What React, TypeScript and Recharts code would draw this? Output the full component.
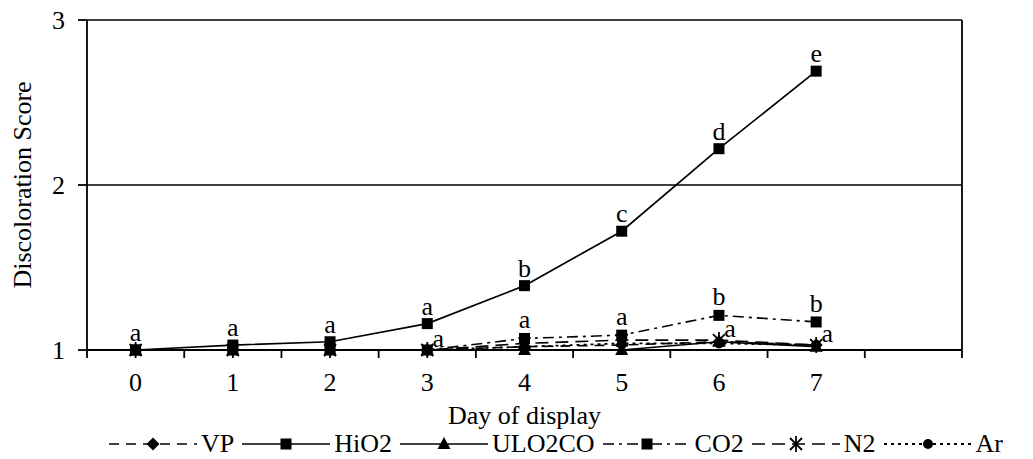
import React from "react";
import { LineChart, Line, XAxis, YAxis, CartesianGrid, ReferenceLine, Legend, LabelList } from "recharts";

const days = [0, 1, 2, 3, 4, 5, 6, 7];
const vp = [1, 1, 1, 1, 1.02, 1.03, 1.05, 1.03];
const hio2 = [1, 1.03, 1.05, 1.16, 1.39, 1.72, 2.22, 2.69];
const ulo2co = [1, 1, 1, 1, 1, 1, 1.05, 1.02];
const co2 = [1, 1, 1, 1, 1.07, 1.09, 1.21, 1.17];
const n2 = [1, 1, 1, 1, 1.04, 1.06, 1.06, 1.03];
const ar = [1, 1, 1, 1, 1.02, 1.04, 1.04, 1.03];

const hio2Letters = ["a", "a", "a", "a", "b", "c", "d", "e"];
const co2Letters = ["", "", "", "", "a", "a", "b", "b"];
const lowLetters = ["", "", "", "a", "", "", "a", "a"];

const xTicks = [-0.5, 0.5, 1.5, 2.5, 3.5, 4.5, 5.5, 6.5, 7.5, 8.5];
const yTicks = [1, 2, 3];

const W = 1033;
const H = 459;
const FONT = "'Liberation Serif', 'Times New Roman', serif";
const FS = 26;
const margin = { top: 20, right: 71, bottom: 0, left: 17 };
const Y_AXIS_W = 70;
// width of one day slot on the x axis
const slotWidth = (W - margin.left - Y_AXIS_W - margin.right) / (xTicks.length - 1);

const data = days.map((d, i) => ({
  day: d,
  VP: vp[i],
  HiO2: hio2[i],
  ULO2CO: ulo2co[i],
  CO2: co2[i],
  N2: n2[i],
  Ar: ar[i],
  hioL: hio2Letters[i],
  co2L: co2Letters[i],
  lowL: lowLetters[i],
}));

type Shape = "diamond" | "square" | "triangle" | "star" | "circle";

const marker = (shape: Shape, cx: number, cy: number, key?: string | number) => {
  switch (shape) {
    case "square":
      return <rect key={key} x={cx - 5.5} y={cy - 5.5} width={11} height={11} fill="#000" />;
    case "diamond":
      return <polygon key={key} points={`${cx},${cy - 6.5} ${cx + 6.5},${cy} ${cx},${cy + 6.5} ${cx - 6.5},${cy}`} fill="#000" />;
    case "triangle":
      return <polygon key={key} points={`${cx},${cy - 7} ${cx + 6.5},${cy + 5} ${cx - 6.5},${cy + 5}`} fill="#000" />;
    case "circle":
      return <circle key={key} cx={cx} cy={cy} r={5} fill="#000" />;
    case "star":
      return (
        <g key={key} stroke="#000" strokeWidth={1.8}>
          <line x1={cx - 6} y1={cy - 6} x2={cx + 6} y2={cy + 6} />
          <line x1={cx - 6} y1={cy + 6} x2={cx + 6} y2={cy - 6} />
          <line x1={cx} y1={cy - 8} x2={cx} y2={cy + 8} />
        </g>
      );
  }
};

const dotFor = (shape: Shape) => (p: any) => marker(shape, p.cx, p.cy, p.key ?? p.index);

const series: { key: string; shape: Shape; dash?: string; width: number }[] = [
  { key: "VP", shape: "diamond", dash: "10 7", width: 1.6 },
  { key: "HiO2", shape: "square", width: 1.7 },
  { key: "ULO2CO", shape: "triangle", width: 1.7 },
  { key: "CO2", shape: "square", dash: "11 5 3 5", width: 1.6 },
  { key: "N2", shape: "star", dash: "13 7", width: 1.6 },
  { key: "Ar", shape: "circle", dash: "3 4", width: 1.8 },
];

const XTick = (props: any) => {
  const { x, y, payload } = props;
  const day = payload.value + 0.5;
  if (!days.includes(day)) return <g />;
  return (
    <text x={x + slotWidth / 2} y={y} dy="0.71em" textAnchor="middle" fontFamily={FONT} fontSize={FS} fill="#000">
      {day}
    </text>
  );
};

const XTitle = (props: any) => {
  const vb = props.viewBox;
  return (
    <text x={vb.x + vb.width / 2} y={vb.y + 74} textAnchor="middle" fontFamily={FONT} fontSize={FS} fill="#000">
      Day of display
    </text>
  );
};

const YTitle = (props: any) => {
  const vb = props.viewBox;
  const cx = 22;
  const cy = vb.y + vb.height / 2;
  return (
    <text
      x={cx}
      y={cy}
      transform={`rotate(-90, ${cx}, ${cy})`}
      textAnchor="middle"
      dominantBaseline="central"
      fontFamily={FONT}
      fontSize={FS}
      fill="#000"
    >
      Discoloration Score
    </text>
  );
};

const letter = (dx: number, dy: number) => (p: any) => {
  if (!p.value) return null;
  return (
    <text x={p.x + dx} y={p.y + dy} textAnchor="middle" fontFamily={FONT} fontSize={FS} fill="#000">
      {p.value}
    </text>
  );
};

const LegendContent = () => (
  <div style={{ display: "flex", alignItems: "center", paddingLeft: 109, fontFamily: FONT, fontSize: FS, color: "#000", lineHeight: "30px" }}>
    {series.map((s) => (
      <div key={s.key} style={{ display: "flex", alignItems: "center", marginRight: 8 }}>
        <svg width={88} height={20} style={{ marginRight: 4 }}>
          <line x1={0} y1={10} x2={88} y2={10} stroke="#000" strokeWidth={s.width} strokeDasharray={s.dash} />
          {marker(s.shape, 44, 10)}
        </svg>
        <span>{s.key}</span>
      </div>
    ))}
  </div>
);

export default function App() {
  return (
    <div style={{ position: "absolute", left: 0, top: 0, width: W, height: H, background: "#fff" }}>
      <LineChart width={W} height={H} data={data} margin={margin}>
        <CartesianGrid horizontal vertical={false} stroke="#000" strokeWidth={1.5} />
        <XAxis
          dataKey="day"
          type="number"
          domain={[-0.5, 8.5]}
          ticks={xTicks}
          interval={0}
          height={79}
          stroke="#000"
          strokeWidth={1.8}
          tickSize={8}
          tickMargin={15}
          tick={<XTick />}
          label={<XTitle />}
        />
        <YAxis
          type="number"
          domain={[1, 3]}
          ticks={yTicks}
          width={Y_AXIS_W}
          stroke="#000"
          strokeWidth={1.8}
          tickSize={9}
          tickMargin={13}
          tick={{ fontFamily: FONT, fontSize: FS, fill: "#000" }}
          label={<YTitle />}
        />
        <ReferenceLine x={8.5} stroke="#000" strokeWidth={1.8} />
        {series.map((s) => (
          <Line
            key={s.key}
            dataKey={s.key}
            stroke="#000"
            strokeWidth={s.width}
            strokeDasharray={s.dash}
            dot={dotFor(s.shape)}
            activeDot={false}
            isAnimationActive={false}
            legendType="none"
          >
            {s.key === "HiO2" && <LabelList dataKey="hioL" content={letter(0, -9)} />}
            {s.key === "CO2" && <LabelList dataKey="co2L" content={letter(0, -10)} />}
            {s.key === "N2" && <LabelList dataKey="lowL" content={letter(11, -3)} />}
          </Line>
        ))}
        <Legend
          verticalAlign="bottom"
          height={30}
          wrapperStyle={{ left: 0, width: W }}
          content={<LegendContent />}
        />
      </LineChart>
    </div>
  );
}
